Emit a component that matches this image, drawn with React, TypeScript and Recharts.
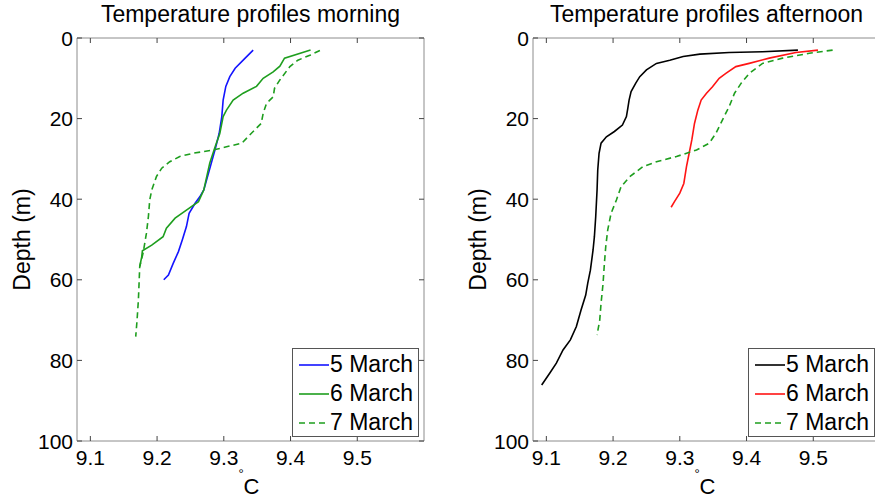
import React from "react";
import { ScatterChart, Scatter, XAxis, YAxis } from "recharts";

const tempTicks = [9.1, 9.2, 9.3, 9.4, 9.5];
const depthTicks = [0, 20, 40, 60, 80, 100];
const dayNames = ["5 March", "6 March", "7 March"];

// morning profiles (temperature, depth)
const morning5T = [9.344, 9.332, 9.317, 9.309, 9.303, 9.299, 9.297, 9.293, 9.288, 9.284, 9.277, 9.27, 9.264, 9.257, 9.248, 9.244, 9.238, 9.232, 9.224, 9.217, 9.21];
const morning5D = [3, 5, 7.5, 9.6, 12, 15.4, 19.5, 23.7, 27, 29.4, 33.6, 37.7, 39.4, 41, 43.5, 46.8, 50, 53, 56, 58.8, 60];
const morning6T = [9.43, 9.391, 9.384, 9.374, 9.359, 9.349, 9.329, 9.314, 9.304, 9.299, 9.294, 9.287, 9.279, 9.27, 9.262, 9.244, 9.227, 9.214, 9.209, 9.192, 9.178, 9.177, 9.174];
const morning6D = [3, 5, 7, 8.4, 10, 12, 13.7, 15.4, 17.9, 19.5, 23.7, 27, 31, 37.7, 40.6, 42.7, 44.7, 47.2, 49.3, 51.4, 52.8, 54.3, 56.7];
const morning7T = [9.444, 9.43, 9.411, 9.399, 9.384, 9.376, 9.374, 9.364, 9.359, 9.356, 9.341, 9.327, 9.304, 9.284, 9.254, 9.234, 9.219, 9.207, 9.199, 9.192, 9.189, 9.187, 9.184, 9.179, 9.174, 9.173, 9.172, 9.17, 9.168];
const morning7D = [3.1, 4.2, 5.5, 7.1, 10.4, 12.5, 14.6, 16.2, 18.7, 21.2, 23.7, 26.1, 27, 27.8, 28.6, 29.4, 30.7, 32.3, 34.4, 37.7, 40.2, 44.3, 48.5, 53.4, 56.7, 60.9, 65, 70, 74.1];

// afternoon profiles (temperature, depth)
const after5T = [9.477, 9.424, 9.374, 9.33, 9.305, 9.285, 9.265, 9.25, 9.24, 9.234, 9.227, 9.224, 9.222, 9.22, 9.214, 9.202, 9.19, 9.182, 9.179, 9.177, 9.176, 9.174, 9.172, 9.17, 9.166, 9.162, 9.159, 9.152, 9.145, 9.136, 9.125, 9.115, 9.105, 9.093];
const after5D = [3, 3.4, 3.6, 4, 4.6, 5.5, 6.3, 7.9, 9.6, 11.2, 13.3, 15.4, 17.5, 19.5, 21.6, 23.2, 24.5, 26.1, 28.6, 32.8, 37.7, 44.3, 49.3, 52.6, 57.6, 60.9, 63.8, 67.5, 71.6, 74.9, 77.4, 80.7, 83.2, 86.1];
const after6T = [9.507, 9.474, 9.434, 9.404, 9.384, 9.369, 9.359, 9.349, 9.34, 9.332, 9.327, 9.322, 9.318, 9.314, 9.31, 9.306, 9.3, 9.292, 9.287];
const after6D = [3, 3.6, 5, 6.3, 7.1, 8.8, 10, 12.1, 13.7, 15.4, 17.9, 21.2, 25.3, 28.6, 31.9, 36.1, 38.5, 40.6, 42];
const after7T = [9.529, 9.494, 9.454, 9.424, 9.404, 9.392, 9.382, 9.374, 9.364, 9.354, 9.344, 9.325, 9.295, 9.265, 9.245, 9.225, 9.212, 9.205, 9.197, 9.192, 9.189, 9.187, 9.185, 9.182, 9.18, 9.176];
const after7D = [3, 3.8, 5, 6.3, 8.8, 11.2, 13.7, 17, 20.3, 23.7, 26.1, 27.8, 29.4, 30.7, 31.9, 34.4, 36.9, 40.2, 43.5, 47.6, 51.8, 55.9, 60.9, 65.8, 70, 73.7];

const pts = (t: number[], d: number[]) => t.map((v, i) => ({ t: v, d: d[i] }));

type Series = { name: string; color: string; dash?: string; data: { t: number; d: number }[] };

const FONT = "'Liberation Sans', Arial, sans-serif";
const BOX = "#8c8c8c";

function XTick(props: any) {
  const { x, y, payload } = props;
  return (
    <text x={x} y={y} dy={16} textAnchor="middle" style={{ fontSize: 21, fontFamily: FONT, fill: "#000" }}>
      {payload.value}
    </text>
  );
}

function YTick(props: any) {
  const { x, y, payload } = props;
  return (
    <text x={x} y={y} dy={7.5} textAnchor="end" style={{ fontSize: 21, fontFamily: FONT, fill: "#000" }}>
      {payload.value}
    </text>
  );
}

const NoTick = () => <g />;

function DepthLabel(props: any) {
  const vb = props.viewBox || {};
  const cy = vb.y + vb.height / 2;
  return (
    <text x={0} y={0} transform={`translate(30, ${cy}) rotate(-90)`} textAnchor="middle" style={{ fontSize: 23, fontFamily: FONT, fill: "#000" }}>
      Depth (m)
    </text>
  );
}

function DegC(props: any) {
  const vb = props.viewBox || {};
  const cx = vb.x + vb.width / 2;
  return (
    <g>
      <text x={cx - 12} y={478} style={{ fontSize: 13, fontFamily: FONT, fill: "#000" }}>°</text>
      <text x={cx - 7} y={494} style={{ fontSize: 22, fontFamily: FONT, fill: "#000" }}>C</text>
    </g>
  );
}

function LegendBox({ series }: { series: Series[] }) {
  return (
    <div style={{ position: "absolute", left: 292, top: 348, border: "1px solid #555", background: "#fff", width: 127, height: 89, boxSizing: "border-box", fontFamily: FONT, fontSize: 23, color: "#000", paddingTop: 1 }}>
      {series.map((s) => (
        <div key={s.name} style={{ display: "flex", alignItems: "center", height: 29, lineHeight: "29px" }}>
          <svg width={32} height={10} style={{ marginLeft: 5 }}>
            <line x1={1} y1={5} x2={31} y2={5} stroke={s.color} strokeWidth={1.6} strokeDasharray={s.dash} />
          </svg>
          <span>{s.name}</span>
        </div>
      ))}
    </div>
  );
}

function Profile({ title, series, left }: { title: string; series: Series[]; left: number }) {
  return (
    <div style={{ position: "absolute", left, top: 0, width: 440, height: 498 }}>
      <div style={{ position: "absolute", left: 77, width: 347, top: 1, textAlign: "center", fontFamily: FONT, fontSize: 23, color: "#000", whiteSpace: "nowrap" }}>
        {title}
      </div>
      <ScatterChart width={440} height={498} margin={{ top: 30, right: 8, bottom: 0, left: 0 }}>
        <XAxis xAxisId="b" type="number" dataKey="t" domain={[9.08, 9.6]} ticks={tempTicks} allowDataOverflow
          orientation="bottom" height={57} tickSize={-5} tickMargin={13} stroke={BOX}
          tick={<XTick />} tickLine={{ stroke: "#444" }} label={<DegC />} />
        <XAxis xAxisId="top" type="number" dataKey="t" domain={[9.08, 9.6]} ticks={tempTicks} allowDataOverflow
          orientation="top" height={8} tickSize={-5} tick={NoTick} stroke={BOX} tickLine={{ stroke: "#444" }} />
        <YAxis yAxisId="l" type="number" dataKey="d" domain={[0, 100]} ticks={depthTicks} reversed allowDataOverflow
          width={77} tickSize={-5} tickMargin={9} stroke={BOX} tick={<YTick />} tickLine={{ stroke: "#444" }}
          label={<DepthLabel />} />
        <YAxis yAxisId="r" type="number" dataKey="d" domain={[0, 100]} ticks={depthTicks} reversed allowDataOverflow
          orientation="right" width={8} tickSize={-5} tick={NoTick} stroke={BOX} tickLine={{ stroke: "#444" }} />
        {series.map((s) => (
          <Scatter key={s.name} name={s.name} data={s.data} xAxisId="b" yAxisId="l" isAnimationActive={false}
            line={{ stroke: s.color, strokeWidth: 1.6, strokeDasharray: s.dash }} lineType="joint" shape={() => <g />} />
        ))}
        {/* binds the box's top and right axes */}
        <Scatter data={series[0].data} xAxisId="top" yAxisId="r" isAnimationActive={false} shape={() => <g />} legendType="none" />
      </ScatterChart>
      <LegendBox series={series} />
    </div>
  );
}

const morningSeries: Series[] = [
  { name: dayNames[0], color: "#1414ff", data: pts(morning5T, morning5D) },
  { name: dayNames[1], color: "#1e9e1e", data: pts(morning6T, morning6D) },
  { name: dayNames[2], color: "#1e9e1e", dash: "6 4", data: pts(morning7T, morning7D) },
];

const afternoonSeries: Series[] = [
  { name: dayNames[0], color: "#000000", data: pts(after5T, after5D) },
  { name: dayNames[1], color: "#ff1414", data: pts(after6T, after6D) },
  { name: dayNames[2], color: "#1e9e1e", dash: "6 4", data: pts(after7T, after7D) },
];

export default function App() {
  return (
    <div style={{ position: "absolute", left: 0, top: 0, width: 875, height: 498, overflow: "hidden", background: "#fff" }}>
      <Profile title="Temperature profiles morning" series={morningSeries} left={0} />
      <Profile title="Temperature profiles afternoon" series={afternoonSeries} left={456} />
    </div>
  );
}
